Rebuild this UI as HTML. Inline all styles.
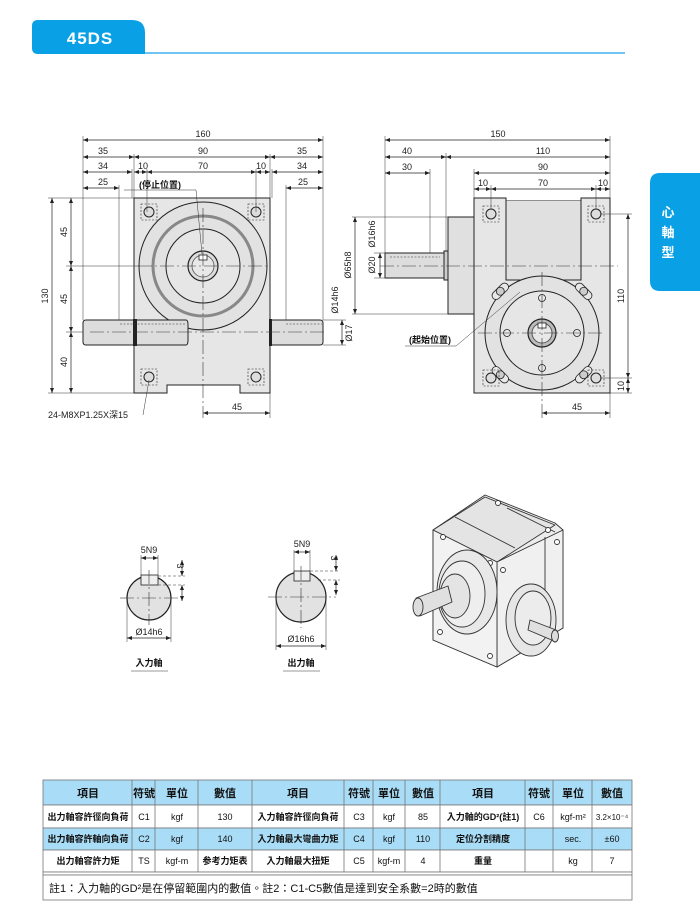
<!DOCTYPE html>
<html><head><meta charset="utf-8"><style>
html,body{margin:0;padding:0;background:#fff;}
svg{display:block;font-family:"Liberation Sans","Noto Sans CJK TC",sans-serif;}
.d{stroke:#222;stroke-width:0.7;fill:none;marker-start:url(#a);marker-end:url(#a);}
.e{stroke:#333;stroke-width:0.5;fill:none;}
.c{stroke:#333;stroke-width:0.6;fill:none;stroke-dasharray:14 3 2 3;}
.o{stroke:#222;stroke-width:1;fill:#e6e6e6;}
.t{font-size:9px;fill:#222;text-anchor:middle;}
.tb{font-size:9px;fill:#111;text-anchor:middle;font-weight:bold;}
.th{font-size:11px;fill:#111;text-anchor:middle;font-weight:bold;}
</style></head><body>
<svg width="700" height="917" viewBox="0 0 700 917" xmlns="http://www.w3.org/2000/svg">
<defs>
<marker id="a" viewBox="0 0 10 10" refX="10" refY="5" markerWidth="7" markerHeight="5" orient="auto-start-reverse" markerUnits="userSpaceOnUse"><path d="M0,1L10,5L0,9z" fill="#222"/></marker>
</defs>
<!-- header -->
<path d="M32,26 Q32,20 38,20 L132,20 Q145,20 145,33 L145,54 L38,54 Q32,54 32,48 Z" fill="#0aa0e6"/>
<text x="90" y="44" font-size="17" font-weight="bold" fill="#fff" text-anchor="middle" letter-spacing="1">45DS</text>
<line x1="145" y1="53" x2="625" y2="53" stroke="#3fb2ee" stroke-width="1.5"/>
<!-- side tab -->
<path d="M700,173 L660,173 Q650,173 650,183 L650,281 Q650,291 660,291 L700,291 Z" fill="#0aa0e6"/>
<text x="668" y="217" font-size="13" font-weight="bold" fill="#fff" text-anchor="middle">心</text>
<text x="668" y="237" font-size="13" font-weight="bold" fill="#fff" text-anchor="middle">軸</text>
<text x="668" y="257" font-size="13" font-weight="bold" fill="#fff" text-anchor="middle">型</text>

<!-- LEFT VIEW -->
<path class="o" d="M134,198 L270,198 L270,393 L240,393 L240,385 L167,385 L167,393 L134,393 Z"/>
<circle cx="203" cy="266" r="64" fill="#e2e2e2" stroke="#222" stroke-width="1"/>
<circle cx="203" cy="266" r="50" fill="none" stroke="#888" stroke-width="3"/>
<circle cx="203" cy="266" r="37" fill="#e6e6e6" stroke="#222" stroke-width="1"/>
<circle cx="203" cy="266" r="15" fill="#ddd" stroke="#222" stroke-width="1.2"/>
<circle cx="203" cy="266" r="11" fill="#e8e8e8" stroke="#555" stroke-width="0.8"/>
<rect x="199" y="255" width="8" height="5" fill="#fff" stroke="#222" stroke-width="0.8"/>
<g stroke="#222" fill="#ddd">
<rect x="141" y="204" width="16" height="16" fill="none" stroke-dasharray="2 1.5" stroke-width="0.6"/><circle cx="149" cy="212" r="5"/>
<rect x="248" y="204" width="16" height="16" fill="none" stroke-dasharray="2 1.5" stroke-width="0.6"/><circle cx="256" cy="212" r="5"/>
<rect x="141" y="369" width="16" height="16" fill="none" stroke-dasharray="2 1.5" stroke-width="0.6"/><circle cx="149" cy="377" r="5"/>
<rect x="248" y="369" width="16" height="16" fill="none" stroke-dasharray="2 1.5" stroke-width="0.6"/><circle cx="256" cy="377" r="5"/>
</g>
<path d="M83,323 Q83,320 86,320 L186,320 Q188,320 188,325 L188,340 Q188,345 186,345 L86,345 Q83,345 83,342 Z" fill="#ddd" stroke="#222"/>
<rect x="133" y="319" width="4" height="27" fill="#222"/>
<path d="M270,320 L320,320 Q323,320 323,323 L323,342 Q323,345 320,345 L270,345 Z" fill="#ddd" stroke="#222"/>
<rect x="269" y="319" width="3" height="27" fill="#222"/>
<line class="e" x1="120" y1="324" x2="186" y2="324" stroke-dasharray="2 1.5"/>
<line class="e" x1="286" y1="324" x2="322" y2="324" stroke-dasharray="2 1.5"/>
<line class="c" x1="138" y1="266" x2="270" y2="266"/>
<line class="c" x1="203" y1="208" x2="203" y2="418"/>
<line class="c" x1="90" y1="332" x2="325" y2="332"/>
<!-- left dims -->
<line class="e" x1="83" y1="136" x2="83" y2="320"/><line class="e" x1="323" y1="136" x2="323" y2="320"/>
<line class="e" x1="134" y1="154" x2="134" y2="198"/><line class="e" x1="270" y1="154" x2="270" y2="198"/>
<line class="e" x1="147" y1="169" x2="147" y2="212"/><line class="e" x1="256" y1="169" x2="256" y2="212"/>
<line class="e" x1="119" y1="185" x2="119" y2="320"/><line class="e" x1="286" y1="185" x2="286" y2="320"/>
<line class="e" x1="132" y1="169" x2="132" y2="198"/><line class="e" x1="272" y1="169" x2="272" y2="198"/>
<line class="d" x1="83" y1="140" x2="323" y2="140"/><text class="t" x="203" y="137">160</text>
<line class="d" x1="83" y1="157" x2="134" y2="157"/><text class="t" x="103" y="154">35</text>
<line class="d" x1="134" y1="157" x2="270" y2="157"/><text class="t" x="203" y="154">90</text>
<line class="d" x1="270" y1="157" x2="323" y2="157"/><text class="t" x="302" y="154">35</text>
<line class="d" x1="83" y1="172" x2="132" y2="172"/><text class="t" x="103" y="169">34</text>
<line class="d" x1="134" y1="172" x2="147" y2="172"/><text class="t" x="143" y="169">10</text>
<line class="d" x1="147" y1="172" x2="256" y2="172"/><text class="t" x="203" y="169">70</text>
<line class="d" x1="256" y1="172" x2="270" y2="172"/><text class="t" x="261" y="169">10</text>
<line class="d" x1="272" y1="172" x2="323" y2="172"/><text class="t" x="302" y="169">34</text>
<line class="d" x1="83" y1="188" x2="119" y2="188"/><text class="t" x="103" y="185">25</text>
<line class="d" x1="286" y1="188" x2="323" y2="188"/><text class="t" x="303" y="185">25</text>
<text class="tb" x="160" y="188">(停止位置)</text>
<line class="e" x1="124" y1="190" x2="196" y2="190"/><line class="e" x1="196" y1="190" x2="202" y2="254"/>
<line class="e" x1="48" y1="198" x2="134" y2="198"/><line class="e" x1="48" y1="393" x2="134" y2="393"/>
<line class="e" x1="66" y1="266" x2="140" y2="266"/><line class="e" x1="66" y1="332" x2="83" y2="332"/>
<line class="d" x1="52" y1="198" x2="52" y2="393"/><text class="t" transform="translate(48,296) rotate(-90)">130</text>
<line class="d" x1="71" y1="198" x2="71" y2="266"/><text class="t" transform="translate(67,232) rotate(-90)">45</text>
<line class="d" x1="71" y1="266" x2="71" y2="332"/><text class="t" transform="translate(67,299) rotate(-90)">45</text>
<line class="d" x1="71" y1="332" x2="71" y2="393"/><text class="t" transform="translate(67,362) rotate(-90)">40</text>
<line class="e" x1="270" y1="393" x2="270" y2="418"/>
<line class="d" x1="203" y1="413" x2="270" y2="413"/><text class="t" x="237" y="410">45</text>
<line class="e" x1="149" y1="380" x2="143" y2="415"/>
<text x="48" y="418" font-size="9" fill="#222">24-M8XP1.25X深15</text>
<line class="e" x1="323" y1="320" x2="346" y2="320"/><line class="e" x1="323" y1="345" x2="346" y2="345"/>
<line class="d" x1="342" y1="320" x2="342" y2="345"/>
<text class="t" transform="translate(338,300) rotate(-90)">Ø14h6</text>
<text class="t" transform="translate(352,333) rotate(-90)">Ø17</text>

<!-- RIGHT VIEW -->
<path class="o" d="M474,198 L506,198 L506,201 L581,201 L581,198 L610,198 L610,393 L474,393 Z"/>
<path d="M506,201 L506,280 L581,280 L581,201" fill="#e0e0e0" stroke="#222" stroke-width="1"/>
<rect x="448" y="217" width="26" height="97" fill="#e0e0e0" stroke="#222"/>
<rect x="385" y="253" width="60" height="25" fill="#ddd" stroke="#222"/>
<rect x="444" y="251" width="4" height="29" fill="#ccc" stroke="#222"/>
<line class="e" x1="390" y1="257" x2="440" y2="257" stroke-dasharray="2 1.5"/>
<circle cx="542" cy="333" r="57" fill="#e2e2e2" stroke="#222" stroke-width="1"/>
<circle cx="542" cy="333" r="42" fill="#e6e6e6" stroke="#222" stroke-width="1"/>
<circle cx="542" cy="333" r="14" fill="#bbb" stroke="#222" stroke-width="1.2"/>
<circle cx="542" cy="333" r="10" fill="#e8e8e8" stroke="#555"/>
<rect x="538" y="323" width="8" height="5" fill="#fff" stroke="#222" stroke-width="0.8"/>
<g fill="#e8e8e8" stroke="#222" stroke-width="0.8">
<circle cx="542" cy="298" r="3.5"/><circle cx="542" cy="368" r="3.5"/><circle cx="507" cy="333" r="3.5"/><circle cx="577" cy="333" r="3.5"/>
</g>
<g fill="#e8e8e8" stroke="#222" stroke-width="0.8">
<g transform="rotate(-45 542 333)"><rect x="532" y="270" width="20" height="8" rx="4"/><circle cx="542" cy="274" r="4" fill="#ccc"/></g>
<g transform="rotate(45 542 333)"><rect x="532" y="270" width="20" height="8" rx="4"/><circle cx="542" cy="274" r="4" fill="#ccc"/></g>
<g transform="rotate(135 542 333)"><rect x="532" y="270" width="20" height="8" rx="4"/><circle cx="542" cy="274" r="4" fill="#ccc"/></g>
<g transform="rotate(-135 542 333)"><rect x="532" y="270" width="20" height="8" rx="4"/><circle cx="542" cy="274" r="4" fill="#ccc"/></g>
</g>
<g stroke="#222" fill="#ddd">
<rect x="483" y="206" width="16" height="16" fill="none" stroke-dasharray="2 1.5" stroke-width="0.6"/><circle cx="491" cy="214" r="5"/>
<rect x="588" y="206" width="16" height="16" fill="none" stroke-dasharray="2 1.5" stroke-width="0.6"/><circle cx="596" cy="214" r="5"/>
<rect x="483" y="370" width="16" height="16" fill="none" stroke-dasharray="2 1.5" stroke-width="0.6"/><circle cx="491" cy="378" r="5"/>
<rect x="588" y="370" width="16" height="16" fill="none" stroke-dasharray="2 1.5" stroke-width="0.6"/><circle cx="596" cy="378" r="5"/>
</g>
<line class="c" x1="380" y1="266" x2="618" y2="266"/>
<line class="c" x1="478" y1="333" x2="605" y2="333"/>
<line class="c" x1="542" y1="272" x2="542" y2="418"/>
<!-- right dims -->
<line class="e" x1="385" y1="136" x2="385" y2="253"/><line class="e" x1="610" y1="136" x2="610" y2="198"/>
<line class="e" x1="446" y1="153" x2="446" y2="251"/><line class="e" x1="430" y1="169" x2="430" y2="253"/>
<line class="e" x1="474" y1="169" x2="474" y2="198"/><line class="e" x1="491" y1="185" x2="491" y2="209"/><line class="e" x1="596" y1="185" x2="596" y2="209"/>
<line class="d" x1="385" y1="140" x2="610" y2="140"/><text class="t" x="498" y="137">150</text>
<line class="d" x1="385" y1="157" x2="446" y2="157"/><text class="t" x="407" y="154">40</text>
<line class="d" x1="446" y1="157" x2="610" y2="157"/><text class="t" x="543" y="154">110</text>
<line class="d" x1="385" y1="173" x2="430" y2="173"/><text class="t" x="407" y="170">30</text>
<line class="d" x1="474" y1="173" x2="610" y2="173"/><text class="t" x="543" y="170">90</text>
<line class="d" x1="474" y1="189" x2="491" y2="189"/><text class="t" x="483" y="186">10</text>
<line class="d" x1="491" y1="189" x2="596" y2="189"/><text class="t" x="543" y="186">70</text>
<line class="d" x1="596" y1="189" x2="610" y2="189"/><text class="t" x="603" y="186">10</text>
<line class="e" x1="352" y1="217" x2="448" y2="217"/><line class="e" x1="352" y1="314" x2="448" y2="314"/>
<line class="d" x1="355" y1="217" x2="355" y2="314"/><text class="t" transform="translate(351,265) rotate(-90)">Ø65h8</text>
<line class="e" x1="374" y1="253" x2="385" y2="253"/><line class="e" x1="374" y1="278" x2="385" y2="278"/>
<line class="d" x1="380" y1="253" x2="380" y2="278"/>
<text class="t" transform="translate(375,234) rotate(-90)">Ø16h6</text>
<text class="t" transform="translate(375,265) rotate(-90)">Ø20</text>
<line class="e" x1="600" y1="214" x2="632" y2="214"/><line class="e" x1="600" y1="378" x2="632" y2="378"/><line class="e" x1="610" y1="393" x2="632" y2="393"/>
<line class="d" x1="628" y1="214" x2="628" y2="378"/><text class="t" transform="translate(624,296) rotate(-90)">110</text>
<line class="d" x1="628" y1="378" x2="628" y2="393"/><text class="t" transform="translate(624,386) rotate(-90)">10</text>
<line class="e" x1="610" y1="393" x2="610" y2="418"/>
<line class="d" x1="542" y1="413" x2="610" y2="413"/><text class="t" x="577" y="410">45</text>
<text class="tb" x="430" y="343">(起始位置)</text>
<line class="e" x1="405" y1="346" x2="456" y2="346"/><line class="e" x1="456" y1="346" x2="520" y2="292"/>

<!-- SHAFT SECTIONS -->
<circle cx="149" cy="598" r="22" fill="#e2e2e2" stroke="#222" stroke-width="1.2"/>
<rect x="141" y="575" width="17" height="10" fill="#eee" stroke="#222" stroke-width="0.8"/>
<line class="c" x1="120" y1="598" x2="180" y2="598"/><line class="c" x1="149" y1="570" x2="149" y2="625"/>
<line class="e" x1="141" y1="555" x2="141" y2="575"/><line class="e" x1="158" y1="555" x2="158" y2="575"/>
<line class="d" x1="141" y1="558" x2="158" y2="558"/><text class="t" x="149" y="553">5N9</text>
<line class="e" x1="158" y1="576" x2="185" y2="576" stroke-dasharray="3 2"/><line class="e" x1="158" y1="585" x2="185" y2="585" stroke-dasharray="3 2"/>
<line class="d" x1="182" y1="560" x2="182" y2="576"/><line class="d" x1="182" y1="601" x2="182" y2="585"/>
<text class="t" transform="translate(177,566) rotate(90)">3</text>
<line class="e" x1="127" y1="600" x2="127" y2="642"/><line class="e" x1="171" y1="600" x2="171" y2="642"/>
<line class="d" x1="127" y1="638" x2="171" y2="638"/><text class="t" x="149" y="635">Ø14h6</text>
<text class="tb" x="149" y="666">入力軸</text><line class="e" x1="131" y1="671" x2="168" y2="671" stroke="#666"/>

<circle cx="301" cy="597" r="25" fill="#e2e2e2" stroke="#222" stroke-width="1.2"/>
<rect x="294" y="571" width="16" height="10" fill="#eee" stroke="#222" stroke-width="0.8"/>
<line class="c" x1="268" y1="597" x2="336" y2="597"/><line class="c" x1="301" y1="566" x2="301" y2="628"/>
<line class="e" x1="294" y1="550" x2="294" y2="571"/><line class="e" x1="310" y1="550" x2="310" y2="571"/>
<line class="d" x1="294" y1="552" x2="310" y2="552"/><text class="t" x="302" y="547">5N9</text>
<line class="e" x1="310" y1="571" x2="340" y2="571" stroke-dasharray="3 2"/><line class="e" x1="318" y1="580" x2="340" y2="580" stroke-dasharray="3 2"/>
<line class="d" x1="336" y1="555" x2="336" y2="571"/><line class="d" x1="336" y1="595" x2="336" y2="580"/>
<text class="t" transform="translate(331,558) rotate(90)">3</text>
<line class="e" x1="276" y1="600" x2="276" y2="650"/><line class="e" x1="326" y1="600" x2="326" y2="650"/>
<line class="d" x1="276" y1="646" x2="326" y2="646"/><text class="t" x="301" y="642">Ø16h6</text>
<text class="tb" x="301" y="666">出力軸</text><line class="e" x1="283" y1="671" x2="320" y2="671" stroke="#666"/>

<!-- 3D VIEW -->
<g stroke="#333" stroke-width="0.9" stroke-linejoin="round">
<polygon points="485,495 555,523 563,530 563,628 497,667 433,640 433,530" fill="#ececec"/>
<polygon points="433,530 485,497 555,525 497,562" fill="#e4e4e4"/>
<polygon points="497,562 563,530 563,628 497,667" fill="#f0f0f0"/>
<polygon points="433,530 497,562 497,667 433,640" fill="#f2f2f2"/>
<line x1="455" y1="517" x2="515" y2="548"/><line x1="507" y1="508" x2="555" y2="532"/>
<line x1="545" y1="537" x2="545" y2="615"/>
<circle cx="443" cy="537" r="2.5" fill="#fff"/><circle cx="490" cy="563" r="2.5" fill="#fff"/><circle cx="498" cy="503" r="2.5" fill="#fff"/><circle cx="548" cy="530" r="2.5" fill="#fff"/><circle cx="503" cy="570" r="2.5" fill="#fff"/><circle cx="557" cy="542" r="2.5" fill="#fff"/>
<circle cx="440" cy="632" r="2.5" fill="#fff"/><circle cx="490" cy="656" r="2.5" fill="#fff"/>
<ellipse cx="467" cy="592" rx="30" ry="42" fill="#e8e8e8"/>
<ellipse cx="462" cy="594" rx="23" ry="33" fill="#eee"/>
<ellipse cx="455" cy="596" rx="15" ry="22" fill="#e4e4e4"/>
<polygon points="416,598 448,586 452,602 420,616" fill="#e0e0e0"/>
<ellipse cx="418" cy="607" rx="5" ry="9" fill="#ddd"/>
<ellipse cx="531" cy="620" rx="25" ry="36" fill="#e6e6e6"/>
<ellipse cx="533" cy="618" rx="18" ry="27" fill="#ececec"/>
<polygon points="530,620 556,630 554,641 528,630" fill="#e0e0e0"/>
<ellipse cx="555" cy="636" rx="3.5" ry="6" fill="#ddd"/>
</g>

<!-- TABLE -->
<g stroke="#777" stroke-width="0.8">
<rect x="43" y="780" width="589" height="25" fill="#a9dcf6"/>
<rect x="43" y="805" width="589" height="23" fill="#fff"/>
<rect x="43" y="828" width="589" height="22" fill="#a9dcf6"/>
<rect x="43" y="850" width="589" height="22" fill="#fff"/>
<rect x="43" y="872" width="589" height="3" fill="#fff"/>
<rect x="43" y="875" width="589" height="25" fill="#fff"/>
<g>
<line x1="132" y1="780" x2="132" y2="872"/><line x1="155" y1="780" x2="155" y2="872"/><line x1="198" y1="780" x2="198" y2="872"/>
<line x1="252" y1="780" x2="252" y2="872"/><line x1="344" y1="780" x2="344" y2="872"/><line x1="373" y1="780" x2="373" y2="872"/>
<line x1="405" y1="780" x2="405" y2="872"/><line x1="440" y1="780" x2="440" y2="872"/><line x1="525" y1="780" x2="525" y2="872"/>
<line x1="553" y1="780" x2="553" y2="872"/><line x1="592" y1="780" x2="592" y2="872"/>
</g>
</g>
<g class="th">
<text class="th" x="88" y="797">項目</text><text class="th" x="144" y="797">符號</text><text class="th" x="177" y="797">單位</text><text class="th" x="225" y="797">數值</text>
<text class="th" x="298" y="797">項目</text><text class="th" x="359" y="797">符號</text><text class="th" x="389" y="797">單位</text><text class="th" x="423" y="797">數值</text>
<text class="th" x="483" y="797">項目</text><text class="th" x="539" y="797">符號</text><text class="th" x="573" y="797">單位</text><text class="th" x="612" y="797">數值</text>
</g>
<g font-size="9" fill="#111" text-anchor="middle">
<text x="88" y="820" font-weight="bold">出力軸容許徑向負荷</text><text x="144" y="820">C1</text><text x="177" y="820">kgf</text><text x="225" y="820">130</text>
<text x="298" y="820" font-weight="bold">入力軸容許徑向負荷</text><text x="359" y="820">C3</text><text x="389" y="820">kgf</text><text x="423" y="820">85</text>
<text x="483" y="820" font-weight="bold">入力軸的GD²(註1)</text><text x="539" y="820">C6</text><text x="573" y="820">kgf-m²</text><text x="612" y="820" font-size="8">3.2×10⁻⁴</text>
<text x="88" y="842" font-weight="bold">出力軸容許軸向負荷</text><text x="144" y="842">C2</text><text x="177" y="842">kgf</text><text x="225" y="842">140</text>
<text x="298" y="842" font-weight="bold">入力軸最大彎曲力矩</text><text x="359" y="842">C4</text><text x="389" y="842">kgf</text><text x="423" y="842">110</text>
<text x="483" y="842" font-weight="bold">定位分割精度</text><text x="573" y="842">sec.</text><text x="612" y="842">±60</text>
<text x="88" y="864" font-weight="bold">出力軸容許力矩</text><text x="144" y="864">TS</text><text x="177" y="864">kgf-m</text><text x="225" y="864" font-weight="bold">参考力矩表</text>
<text x="298" y="864" font-weight="bold">入力軸最大扭矩</text><text x="359" y="864">C5</text><text x="389" y="864">kgf-m</text><text x="423" y="864">4</text>
<text x="483" y="864" font-weight="bold">重量</text><text x="573" y="864">kg</text><text x="612" y="864">7</text>
</g>
<text x="49" y="892" font-size="11" fill="#111">註1：入力軸的GD²是在停留範圍内的數值。註2：C1-C5數值是達到安全系數=2時的數值</text>
</svg>
</body></html>
